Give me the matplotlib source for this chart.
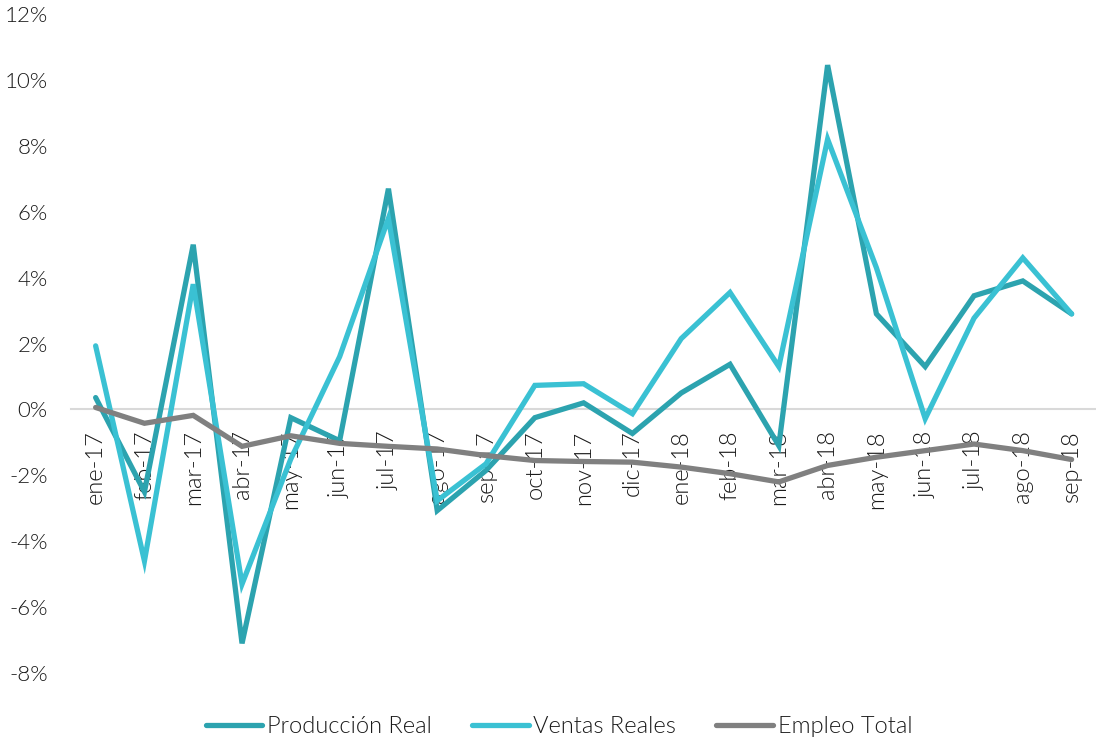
import matplotlib as mpl
import matplotlib.pyplot as plt
from matplotlib.ticker import FuncFormatter

mpl.rcParams.update({
    "font.family": ["Lato", "DejaVu Sans"],
    "font.weight": 300,
    "font.size": 16,
})

C_PROD = "#2CA3AF"
C_VENT = "#3AC1D3"
C_EMPL = "#808080"
C_TEXT = "#1A1A1A"
C_ZERO = "#D9D9D9"

months = ["ene-17", "feb-17", "mar-17", "abr-17", "may-17", "jun-17", "jul-17",
          "ago-17", "sep-17", "oct-17", "nov-17", "dic-17", "ene-18", "feb-18",
          "mar-18", "abr-18", "may-18", "jun-18", "jul-18", "ago-18", "sep-18"]

produccion = [0.36, -2.5, 5.0, -7.1, -0.25, -0.95, 6.7, -3.07, -1.85, -0.25, 0.2,
              -0.73, 0.5, 1.37, -1.1, 10.45, 2.9, 1.3, 3.45, 3.9, 2.9]
ventas = [1.93, -4.6, 3.8, -5.3, -1.5, 1.6, 5.8, -2.77, -1.65, 0.73, 0.78,
          -0.13, 2.15, 3.55, 1.3, 8.2, 4.3, -0.28, 2.77, 4.6, 2.9]
empleo = [0.06, -0.42, -0.18, -1.12, -0.8, -1.03, -1.12, -1.2, -1.4, -1.55, -1.58,
          -1.6, -1.75, -1.95, -2.2, -1.7, -1.45, -1.25, -1.05, -1.25, -1.52]

fig = plt.figure(figsize=(10.96, 7.4), dpi=100)
ax = fig.add_axes([0.065, 0.0905, 0.935, 0.8905])

x = list(range(len(months)))
kw = dict(linewidth=3.8, solid_capstyle="round", solid_joinstyle="miter")
ax.plot(x, produccion, color=C_PROD, label="Producción Real", **kw)
ax.plot(x, ventas, color=C_VENT, label="Ventas Reales", **kw)
ax.plot(x, empleo, color=C_EMPL, label="Empleo Total", **kw)

ax.set_xlim(-0.5, len(months) - 0.5)
ax.set_ylim(-8, 12)
ax.set_yticks(range(-8, 13, 2))
ax.yaxis.set_major_formatter(FuncFormatter(lambda v, p: f"{v:.0f}%"))

# category axis sits on the zero line
for s in ["top", "right", "left"]:
    ax.spines[s].set_visible(False)
ax.spines["bottom"].set_position(("data", 0))
ax.spines["bottom"].set_color(C_ZERO)
ax.spines["bottom"].set_linewidth(1.5)
ax.spines["bottom"].set_zorder(0)

ax.set_xticks(x)
ax.set_xticklabels(months, rotation=90)
ax.tick_params(axis="x", length=0, pad=15, labelsize=17, colors=C_TEXT)
ax.tick_params(axis="y", length=0, pad=17, labelsize=16, colors=C_TEXT)

fig.legend(loc="lower center", ncol=3, frameon=False, fontsize=17,
           handlelength=2.4, handletextpad=0.2, columnspacing=1.7,
           bbox_to_anchor=(0.51, -0.025), labelcolor=C_TEXT)

fig.savefig("out.png", dpi=100)
